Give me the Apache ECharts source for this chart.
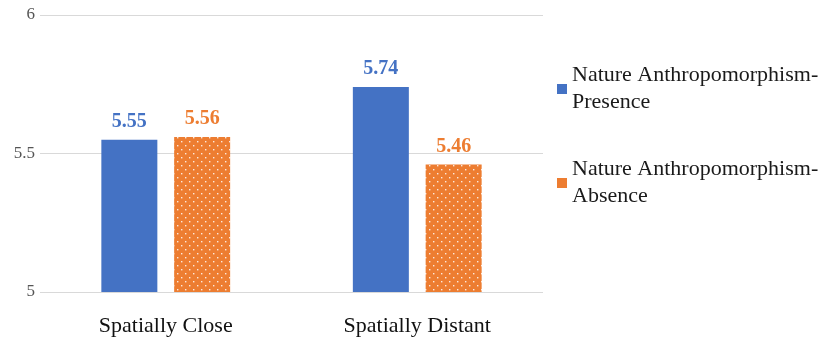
<!DOCTYPE html>
<html>
<head>
<meta charset="utf-8">
<script src="https://cdn.jsdelivr.net/npm/echarts@6/dist/echarts.min.js"></script>
<style>
  html, body { margin: 0; padding: 0; background: #fff; }
  #chart { width: 821px; height: 341px; }
</style>
</head>
<body>
<div id="chart"></div>
<script>
var categories = ['Spatially Close', 'Spatially Distant'];
var presenceValues = [5.55, 5.74];
var absenceValues = [5.56, 5.46];
var seriesNames = ['Nature Anthropomorphism-\nPresence', 'Nature Anthropomorphism-\nAbsence'];

var blue = '#4472C4';
var orange = '#ED7D31';
var serif = '"Liberation Serif", "Times New Roman", serif';

// dotted orange fill, like the office "small dots" pattern
function dotPattern() {
   var c = document.createElement('canvas');
   c.width = 8; c.height = 8;
   var ctx = c.getContext('2d');
   ctx.fillStyle = orange;
   ctx.fillRect(0, 0, 8, 8);
   ctx.fillStyle = '#fde9dc';
   ctx.fillRect(1, 1, 1.4, 1.4);
   ctx.fillRect(5, 5, 1.4, 1.4);
   return c;
}

var chart = echarts.init(document.getElementById('chart'));
var option = {
   animation: false,
   grid: { left: 40, right: 278, top: 15, bottom: 49 },
   legend: {
      orient: 'vertical',
      left: 552,
      top: 57,
      itemWidth: 10,
      itemHeight: 10,
      itemGap: 40,
      textStyle: { fontFamily: serif, fontSize: 22, color: '#1a1a1a', lineHeight: 27 },
      data: [
         { name: seriesNames[0], icon: 'rect', itemStyle: { color: blue } },
         { name: seriesNames[1], icon: 'rect', itemStyle: { color: orange } }
      ]
   },
   xAxis: {
      type: 'category',
      data: categories,
      axisLine: { show: false },
      axisTick: { show: false },
      axisLabel: { fontFamily: serif, fontSize: 22, color: '#111', margin: 23 }
   },
   yAxis: {
      type: 'value',
      min: 5,
      max: 6,
      interval: 0.5,
      axisLine: { show: false },
      axisTick: { show: false },
      axisLabel: { fontFamily: serif, fontSize: 17, color: '#555', margin: 5 },
      splitLine: { lineStyle: { color: '#d9d9d9', width: 1 } }
   },
   series: [
      {
         name: seriesNames[0],
         type: 'bar',
         data: presenceValues,
         barWidth: 56,
         barGap: '30%',
         itemStyle: { color: blue },
         label: {
            show: true, position: 'top', distance: 8,
            fontFamily: serif, fontSize: 20, fontWeight: 'bold', color: blue,
            formatter: function (p) { return p.value.toFixed(2); }
         }
      },
      {
         name: seriesNames[1],
         type: 'bar',
         data: absenceValues,
         barWidth: 56,
         itemStyle: { color: { image: dotPattern(), repeat: 'repeat' } },
         label: {
            show: true, position: 'top', distance: 8,
            fontFamily: serif, fontSize: 20, fontWeight: 'bold', color: orange,
            formatter: function (p) { return p.value.toFixed(2); }
         }
      }
   ]
};
chart.setOption(option);
</script>
</body>
</html>
